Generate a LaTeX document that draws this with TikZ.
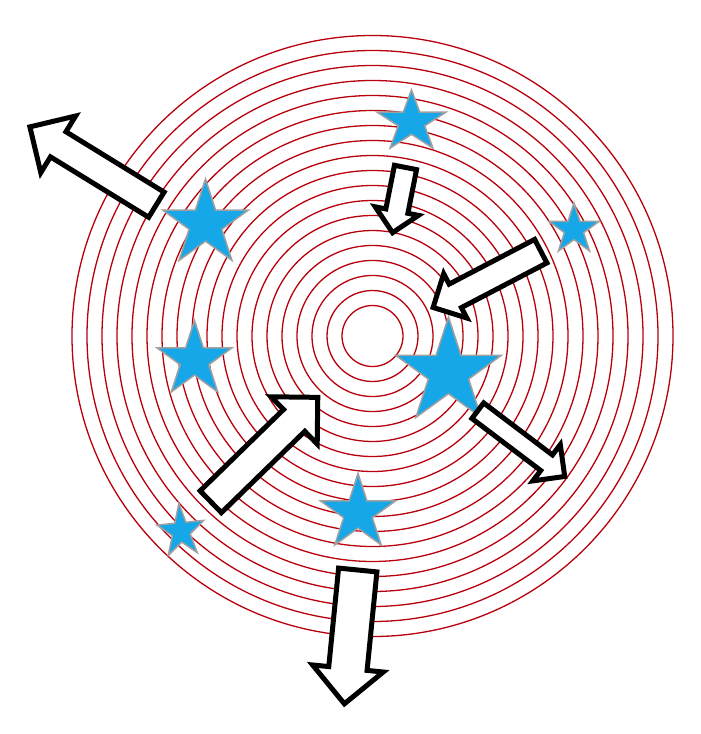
\documentclass[tikz,border=0pt]{standalone}
\usepackage{tikz}
\usetikzlibrary{shapes.geometric,shapes.arrows}
\definecolor{Ring}{HTML}{B8000C}
\definecolor{Sky}{HTML}{16A7E8}
\definecolor{Rim}{HTML}{A0A0A0}

\begin{document}
\begin{tikzpicture}[x=1pt, y=-1pt,
    ringline/.style={draw=Ring, line width=1.3pt},
    starnode/.style={star, star points=5, star point ratio=2.618, fill=Sky, draw=Rim, line width=1.5pt, inner sep=0pt},
    blockarrow/.style={single arrow, draw=black, fill=white, line width=5pt, inner xsep=0pt, anchor=tail}]
    \useasboundingbox (0,0) rectangle (701,734);
    \coordinate (c) at (372.5,336);
    \foreach \i [evaluate=\i as \rr using 30.5+15*\i] in {0,...,18} {
      \draw[ringline] (c) circle[radius=\rr pt];
    }
    \foreach \name/\x/\y/\d in {starNW/205.5/224/90pt, starW/194.5/360/79pt, starS/358/513/79pt, starE/574/229.5/53pt, starC/448.5/372.5/111pt} {
      \node[starnode, minimum size=\d] (\name) at (\x,\y) {};
    }
    \node[starnode, minimum size=70pt, xscale=1.04, yscale=0.92] (starN) at (411.5,122) {};
    \node[starnode, minimum size=52pt, xscale=0.95, yscale=1.08, rotate=5] (starSW) at (181,531.4) {};
    \foreach \name/\x/\y/\ang/\len/\half/\ext in {outNW/158.5/206/148.4/148.5pt/12.25pt/18.5pt, inN/406/165/258.8/66.5pt/8.75pt/10.75pt, inNE/543/250/207.6/121.5pt/10.75pt/11.75pt, inSW/209/503.5/44.3/149.5pt/12.75pt/17.75pt, outSE/475.8/409.2/-37.1/109pt/7.25pt/13pt, outS/358/567.5/264.3/134.5pt/16.75pt/16.25pt} {
      \node[blockarrow, rotate=\ang, minimum height=\len, inner ysep=\half, single arrow head extend=\ext] (\name) at (\x,\y) {};
    }
  \end{tikzpicture}
\end{document}
